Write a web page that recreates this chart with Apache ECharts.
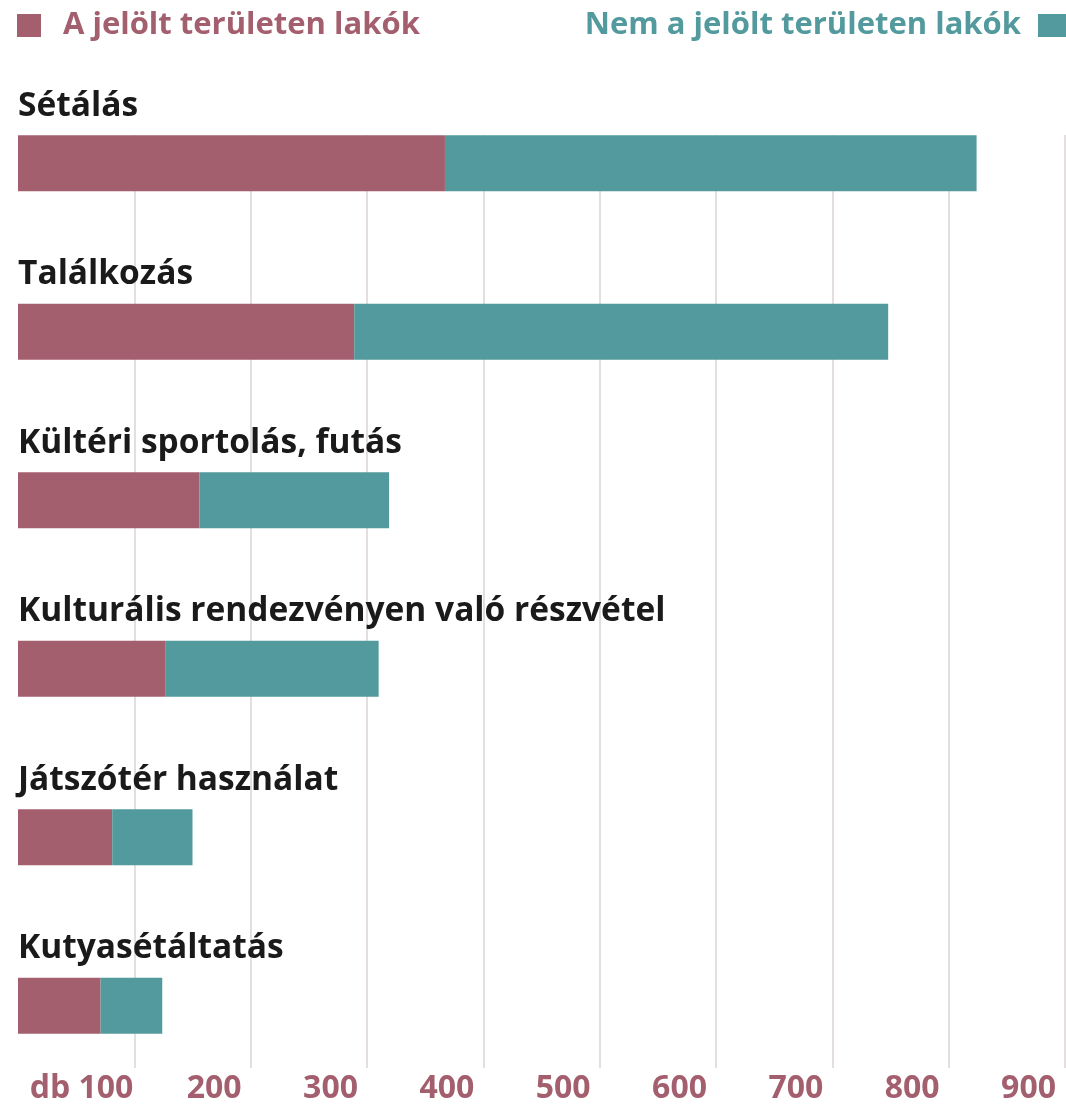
<!DOCTYPE html>
<html>
<head>
<meta charset="utf-8">
<script src="https://cdn.jsdelivr.net/npm/echarts@6/dist/echarts.min.js"></script>
<style>
  html, body { margin: 0; padding: 0; background: #ffffff; }
  #chart { width: 1066px; height: 1105px; }
</style>
</head>
<body>
<div id="chart"></div>
<script>
// Activities (top to bottom)
const categories = [
  'Sétálás',
  'Találkozás',
  'Kültéri sportolás, futás',
  'Kulturális rendezvényen való részvétel',
  'Játszótér használat',
  'Kutyasétáltatás'
];
// Responses (db) from people living in the marked area
const residents = [367, 289, 156, 127, 81, 71];
// Responses (db) from people not living in the marked area
const nonResidents = [457, 459, 163, 183, 69, 53];
// Series names shown in the two legends
const seriesNames = ['A jelölt területen lakók', 'Nem a jelölt területen lakók'];
// Axis range and unit
const axisMax = 900;
const axisStep = 100;
const unitLabel = 'db';

const PINK = '#a45f6f';
const TEAL = '#529a9d';
const FONT = '"Open Sans"';

const chart = echarts.init(document.getElementById('chart'), null, { renderer: 'canvas' });

const legendText = (color, pad) => ({
  color: color, fontSize: 31, fontWeight: 'bold', fontFamily: FONT, padding: pad
});

chart.setOption({
  animation: false,
  backgroundColor: '#ffffff',
  legend: [
    {
      data: [seriesNames[0]], left: 17, top: 10, padding: 0, icon: 'rect',
      itemWidth: 24, itemHeight: 23, selectedMode: false,
      textStyle: legendText(PINK, [0, 0, 0, 17])
    },
    {
      data: [seriesNames[1]], right: 0, top: 10, padding: 0, icon: 'rect', align: 'right',
      itemWidth: 28, itemHeight: 23, selectedMode: false,
      textStyle: legendText(TEAL, [0, 12, 0, 0])
    }
  ],
  grid: [
    { left: 18, right: 1, top: 79, height: 1011 },
    { left: 18, right: 1, top: 135, bottom: 30 }
  ],
  xAxis: [
    { gridIndex: 0, type: 'value', min: 0, max: axisMax, interval: axisStep, show: false },
    {
      gridIndex: 1, type: 'value', min: 0, max: axisMax, interval: axisStep,
      axisLine: { show: false }, axisTick: { show: false },
      splitLine: { show: true, showMinLine: false, lineStyle: { color: '#ddd3d6', width: 1.5 } },
      axisLabel: {
        margin: 5, align: 'right', verticalAlign: 'top',
        formatter: v => v === 0 ? '' : (v === axisStep ? '{d|' + unitLabel + ' ' + v + '}' : '{n|' + v + '}'),
        rich: {
          d: { color: PINK, fontSize: 32, fontWeight: 'bold', fontFamily: FONT, padding: [0, 1, 0, 0] },
          n: { color: PINK, fontSize: 32, fontWeight: 'bold', fontFamily: FONT, padding: [0, 9, 0, 0] }
        }
      }
    }
  ],
  yAxis: [
    {
      gridIndex: 0, type: 'category', data: categories, inverse: true,
      axisLine: { show: false }, axisTick: { show: false }, splitLine: { show: false },
      axisLabel: {
        inside: true, margin: 0, align: 'left', verticalAlign: 'bottom',
        color: '#1a1a1a', fontSize: 33.5, fontWeight: 'bold', fontFamily: FONT,
        lineHeight: 40, padding: [0, 0, 37, 0]
      }
    },
    { gridIndex: 1, type: 'value', show: false }
  ],
  series: [
    {
      name: seriesNames[0], type: 'bar', stack: 'total', barWidth: 56,
      xAxisIndex: 0, yAxisIndex: 0, z: 3,
      itemStyle: { color: PINK }, data: residents
    },
    {
      name: seriesNames[1], type: 'bar', stack: 'total', barWidth: 56,
      xAxisIndex: 0, yAxisIndex: 0, z: 3,
      itemStyle: { color: TEAL }, data: nonResidents
    }
  ]
});
</script>
</body>
</html>
